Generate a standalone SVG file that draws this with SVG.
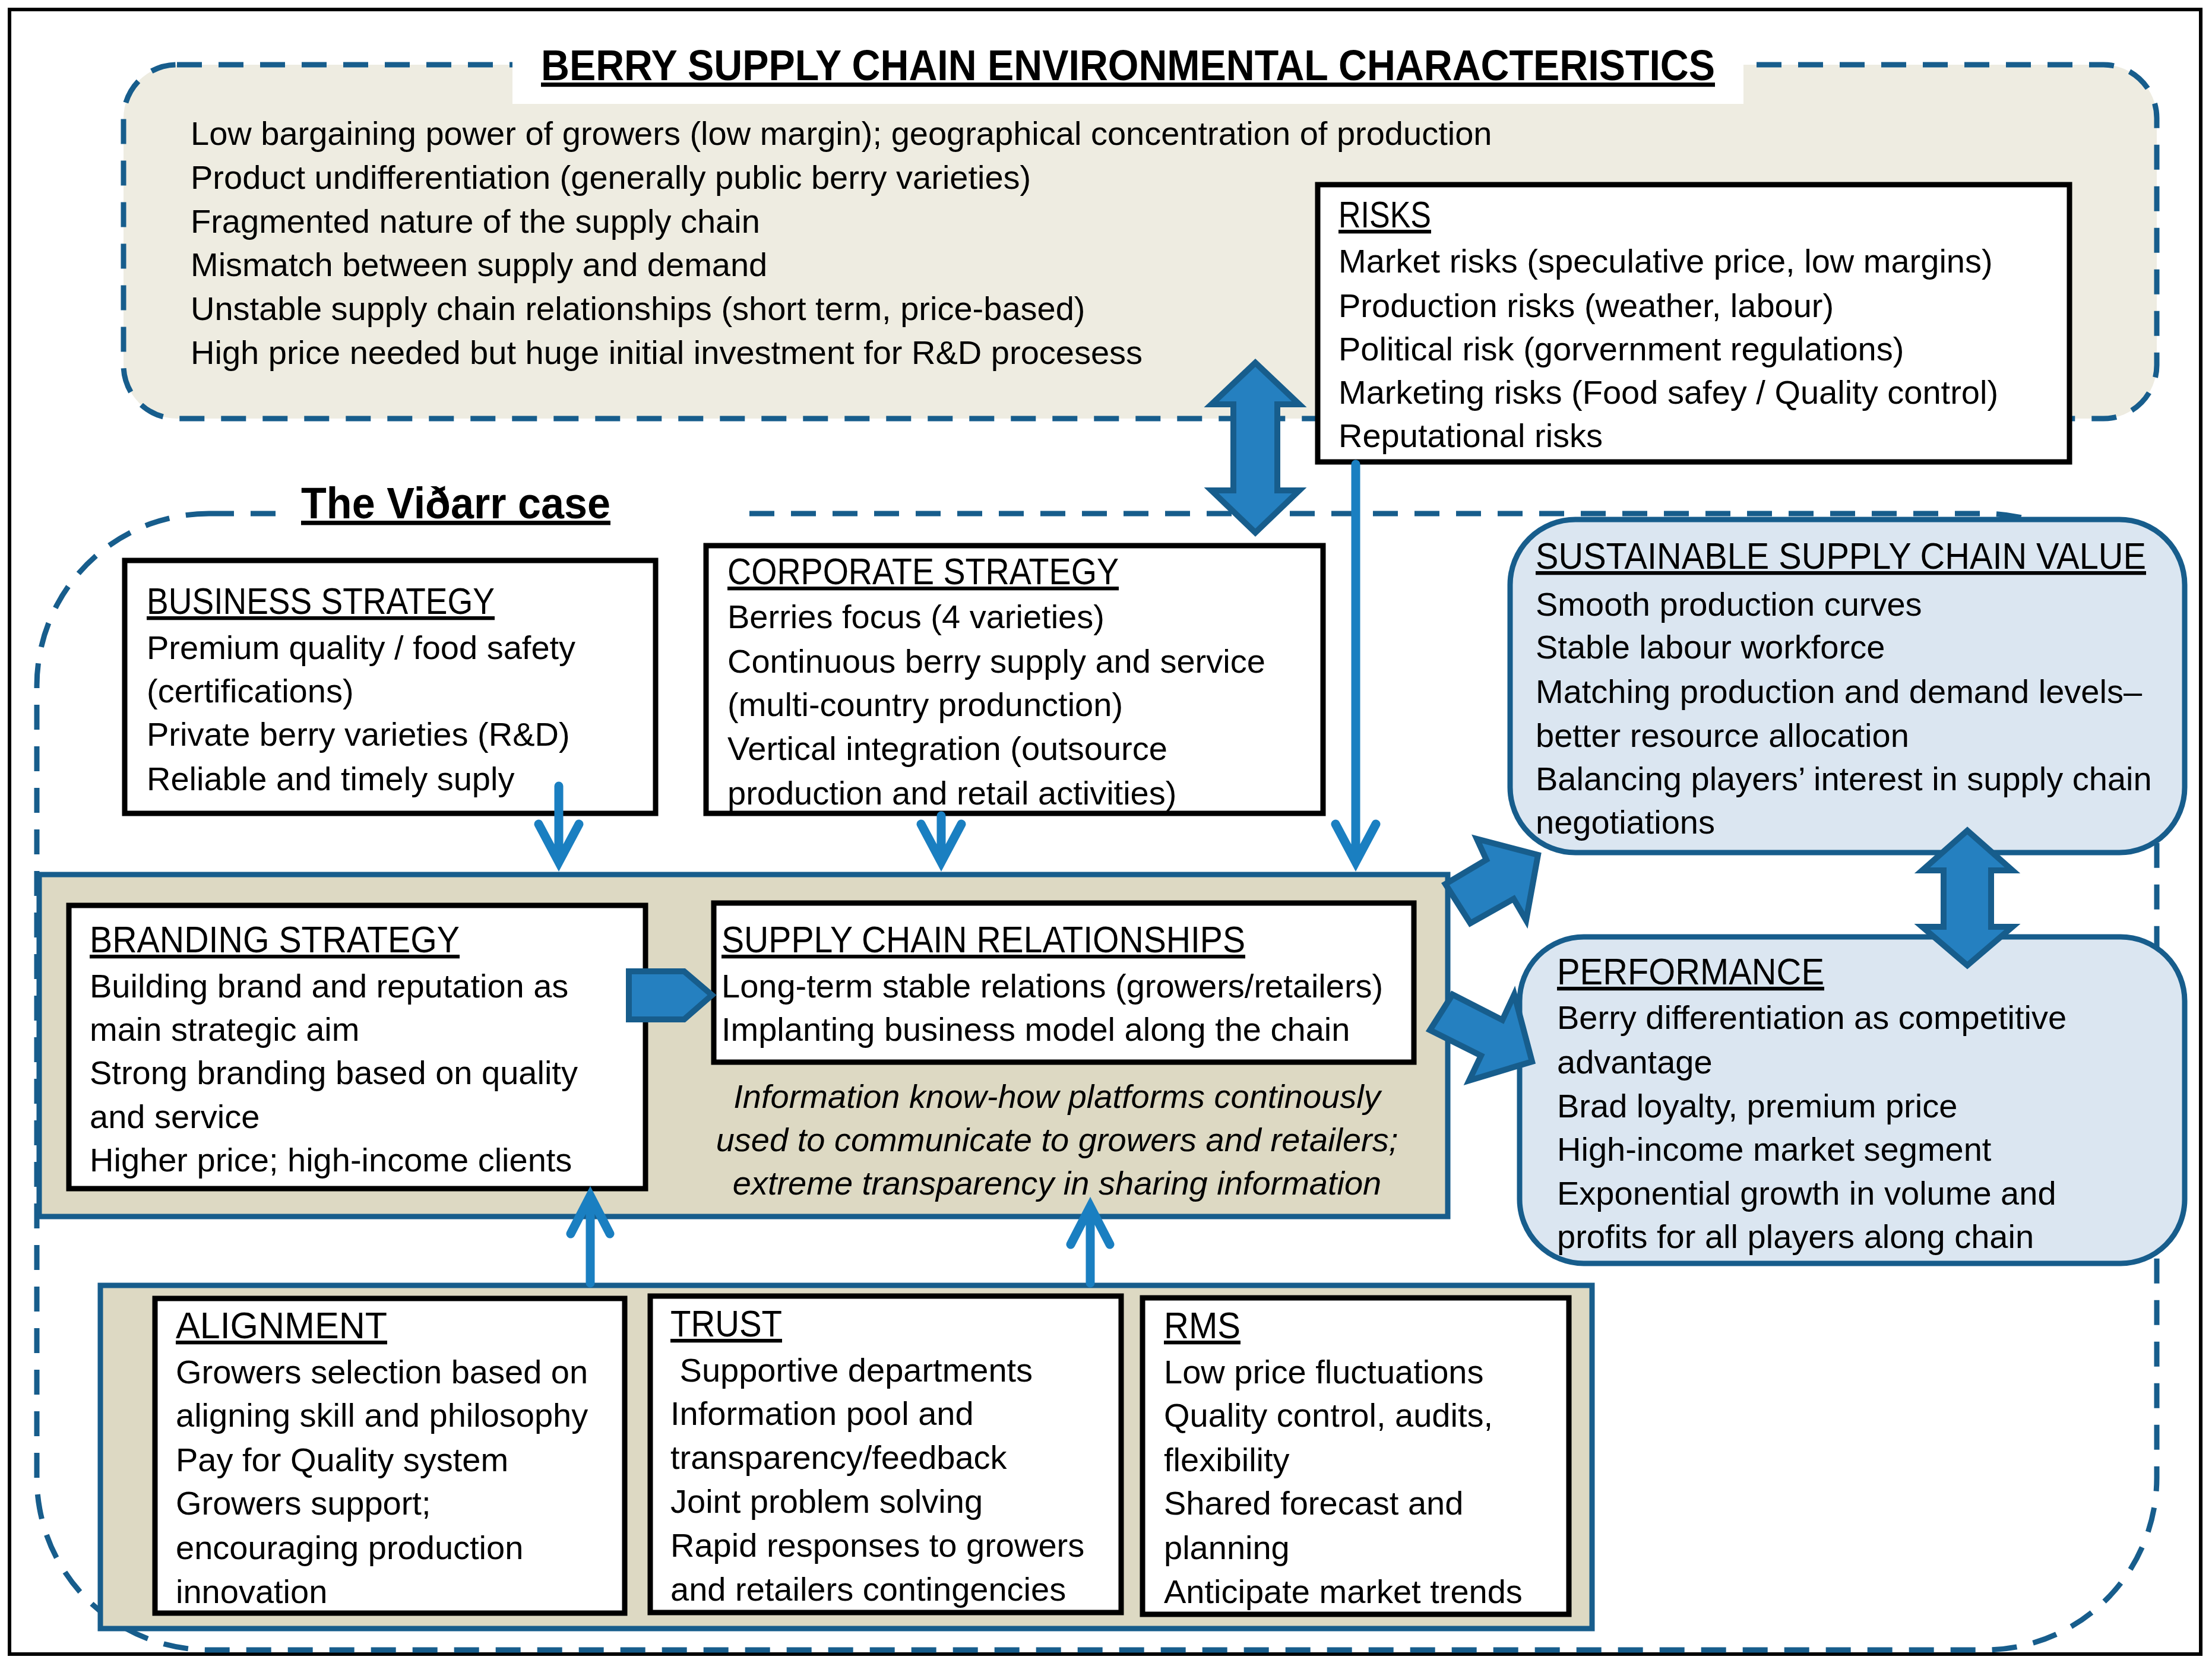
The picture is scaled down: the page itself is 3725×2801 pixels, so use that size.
<svg xmlns="http://www.w3.org/2000/svg" width="3725" height="2801" viewBox="0 0 3725 2801">
<style>
text{font-family:"Liberation Sans",Arial,sans-serif;font-size:56px;fill:#000}
.t{text-decoration:underline;font-size:63px}
.b{font-weight:bold}
.i{font-style:italic}
.dash{fill:none;stroke:#175d8c;stroke-width:9;stroke-dasharray:42 28}
.bx{fill:#fff;stroke:#000;stroke-width:9}
.shade{fill:#ddd9c3;stroke:#175d8c;stroke-width:9}
.blue{fill:#dbe6f1;stroke:#175d8c;stroke-width:9}
.conn{fill:none;stroke:#1a7fc1;stroke-width:15;stroke-linecap:round;stroke-linejoin:miter}
.blk{fill:#2580c0;stroke:#175d8c;stroke-width:10;stroke-linejoin:miter}
</style>
<rect x="0" y="0" width="3725" height="2801" fill="#fff"/>
<rect x="16" y="16" width="3690" height="2770" fill="none" stroke="#000" stroke-width="6"/>

<g id="environment">
<rect class="dash" x="208" y="109" width="3424" height="596" rx="90" style="fill:#eeece1"/>
<rect x="863" y="88" width="2073" height="87" fill="#fff"/>
<text class="t b" x="911" y="135" style="font-size:72px" textLength="1977" lengthAdjust="spacingAndGlyphs">BERRY SUPPLY CHAIN ENVIRONMENTAL CHARACTERISTICS</text>
<text x="321" y="244">Low bargaining power of growers (low margin); geographical concentration of production</text>
<text x="321" y="318">Product undifferentiation (generally public berry varieties)</text>
<text x="321" y="392">Fragmented nature of the supply chain</text>
<text x="321" y="465">Mismatch between supply and demand</text>
<text x="321" y="539">Unstable supply chain relationships (short term, price-based)</text>
<text x="321" y="613">High price needed but huge initial investment for R&amp;D procesess</text>
</g>

<g id="vidarr">
<rect class="dash" x="62" y="865" width="3570" height="1914" rx="290"/>
<rect x="476" y="815" width="760" height="80" fill="#fff"/>
<text class="t b" x="507" y="873" style="font-size:74px" textLength="521" lengthAdjust="spacingAndGlyphs">The Viðarr case</text>
</g>

<g id="risks">
<rect class="bx" x="2219" y="311" width="1266" height="467"/>
<text class="t" x="2254" y="383" textLength="156" lengthAdjust="spacingAndGlyphs">RISKS</text>
<text x="2254" y="459">Market risks (speculative price, low margins)</text>
<text x="2254" y="534">Production risks (weather, labour)</text>
<text x="2254" y="607">Political risk (gorvernment regulations)</text>
<text x="2254" y="680">Marketing risks (Food safey / Quality control)</text>
<text x="2254" y="753">Reputational risks</text>
</g>

<g id="business-strategy">
<rect class="bx" x="210" y="944" width="894" height="426"/>
<text class="t" x="247" y="1034" textLength="586" lengthAdjust="spacingAndGlyphs">BUSINESS STRATEGY</text>
<text x="247" y="1110">Premium quality / food safety</text>
<text x="247" y="1183">(certifications)</text>
<text x="247" y="1256">Private berry varieties (R&amp;D)</text>
<text x="247" y="1331">Reliable and timely suply</text>
</g>

<g id="corporate-strategy">
<rect class="bx" x="1189" y="919" width="1039" height="451"/>
<text class="t" x="1225" y="984" textLength="659" lengthAdjust="spacingAndGlyphs">CORPORATE STRATEGY</text>
<text x="1225" y="1058">Berries focus (4 varieties)</text>
<text x="1225" y="1133">Continuous berry supply and service</text>
<text x="1225" y="1206">(multi-country produnction)</text>
<text x="1225" y="1280">Vertical integration (outsource</text>
<text x="1225" y="1355">production and retail activities)</text>
</g>

<g id="core">
<rect class="shade" x="66" y="1473" width="2372" height="576"/>
<text class="i" x="1780" y="1866" text-anchor="middle">Information know-how platforms continously</text>
<text class="i" x="1780" y="1939" text-anchor="middle">used to communicate to growers and retailers;</text>
<text class="i" x="1780" y="2012" text-anchor="middle">extreme transparency in sharing information</text>
</g>

<g id="branding-strategy">
<rect class="bx" x="116" y="1525" width="971" height="477"/>
<text class="t" x="151" y="1604" textLength="623" lengthAdjust="spacingAndGlyphs">BRANDING STRATEGY</text>
<text x="151" y="1680">Building brand and reputation as</text>
<text x="151" y="1753">main strategic aim</text>
<text x="151" y="1826">Strong branding based on quality</text>
<text x="151" y="1900">and service</text>
<text x="151" y="1973">Higher price; high-income clients</text>
</g>

<g id="supply-chain-relationships">
<rect class="bx" x="1202" y="1521" width="1179" height="268"/>
<text class="t" x="1215" y="1604" textLength="882" lengthAdjust="spacingAndGlyphs">SUPPLY CHAIN RELATIONSHIPS</text>
<text x="1215" y="1680">Long-term stable relations (growers/retailers)</text>
<text x="1215" y="1753">Implanting business model along the chain</text>
</g>

<g id="enablers">
<rect class="shade" x="169" y="2165" width="2512" height="578"/>
</g>

<g id="alignment">
<rect class="bx" x="261" y="2187" width="791" height="530"/>
<text class="t" x="296" y="2254" textLength="356" lengthAdjust="spacingAndGlyphs">ALIGNMENT</text>
<text x="296" y="2330">Growers selection based on</text>
<text x="296" y="2403">aligning skill and philosophy</text>
<text x="296" y="2478">Pay for Quality system</text>
<text x="296" y="2551">Growers support;</text>
<text x="296" y="2626">encouraging production</text>
<text x="296" y="2700">innovation</text>
</g>

<g id="trust">
<rect class="bx" x="1095" y="2183" width="793" height="533"/>
<text class="t" x="1129" y="2251" textLength="188" lengthAdjust="spacingAndGlyphs">TRUST</text>
<text x="1129" y="2327" xml:space="preserve"> Supportive departments</text>
<text x="1129" y="2400">Information pool and</text>
<text x="1129" y="2474">transparency/feedback</text>
<text x="1129" y="2548">Joint problem solving</text>
<text x="1129" y="2622">Rapid responses to growers</text>
<text x="1129" y="2696">and retailers contingencies</text>
</g>

<g id="rms">
<rect class="bx" x="1924" y="2186" width="718" height="533"/>
<text class="t" x="1960" y="2254" textLength="129" lengthAdjust="spacingAndGlyphs">RMS</text>
<text x="1960" y="2330">Low price fluctuations</text>
<text x="1960" y="2403">Quality control, audits,</text>
<text x="1960" y="2478">flexibility</text>
<text x="1960" y="2551">Shared forecast and</text>
<text x="1960" y="2626">planning</text>
<text x="1960" y="2700">Anticipate market trends</text>
</g>

<g id="sustainable-value">
<rect class="blue" x="2543" y="875" width="1136" height="561" rx="110"/>
<text class="t" x="2586" y="958" textLength="1028" lengthAdjust="spacingAndGlyphs">SUSTAINABLE SUPPLY CHAIN VALUE</text>
<text x="2586" y="1037">Smooth production curves</text>
<text x="2586" y="1109">Stable labour workforce</text>
<text x="2586" y="1184">Matching production and demand levels–</text>
<text x="2586" y="1258">better resource allocation</text>
<text x="2586" y="1331">Balancing players’ interest in supply chain</text>
<text x="2586" y="1404">negotiations</text>
</g>

<g id="performance">
<rect class="blue" x="2559" y="1578" width="1120" height="550" rx="108"/>
<text class="t" x="2622" y="1658" textLength="450" lengthAdjust="spacingAndGlyphs">PERFORMANCE</text>
<text x="2622" y="1733">Berry differentiation as competitive</text>
<text x="2622" y="1808">advantage</text>
<text x="2622" y="1882">Brad loyalty, premium price</text>
<text x="2622" y="1955">High-income market segment</text>
<text x="2622" y="2029">Exponential growth in volume and</text>
<text x="2622" y="2102">profits for all players along chain</text>
</g>

<g id="connectors">
<path class="conn" d="M2283 782 V1450 M2249 1388 L2283 1452 L2317 1388"/>
<path class="conn" d="M941 1324 V1450 M907 1388 L941 1452 L975 1388"/>
<path class="conn" d="M1585 1374 V1450 M1551 1388 L1585 1452 L1619 1388"/>
<path class="conn" d="M994 2161 V2016 M961 2078 L994 2014 L1027 2078"/>
<path class="conn" d="M1836 2161 V2034 M1803 2096 L1836 2032 L1869 2096"/>
<polygon class="blk" points="2114,611 2040,681 2077,681 2077,826 2040,826 2114,897 2188,826 2151,826 2151,681 2188,681"/>
<polygon class="blk" points="3313,1399 3237,1466 3273,1466 3273,1561 3237,1561 3313,1626 3389,1561 3353,1561 3353,1466 3389,1466"/>
<polygon class="blk" points="1059,1636 1152,1636 1199,1676 1152,1717 1059,1717"/>
<polygon class="blk" points="2434,1489 2503,1448 2487,1413 2590,1440 2570,1550 2549,1514 2476,1555"/>
<polygon class="blk" points="2446,1675 2530,1718 2550,1675 2580,1788 2474,1820 2494,1778 2408,1735"/>
</g>
</svg>
